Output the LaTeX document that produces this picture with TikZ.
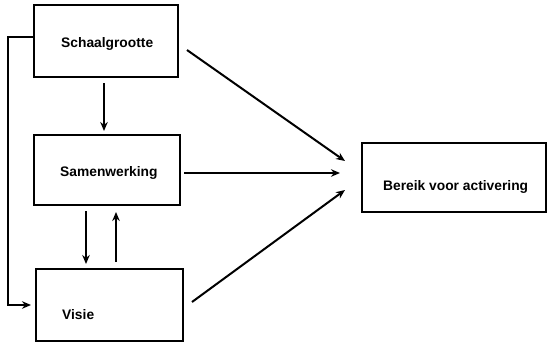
\documentclass[tikz,border=0pt]{standalone}
\usepackage{fontspec}
\setmainfont{Liberation Sans}
\usetikzlibrary{arrows.meta}
\begin{document}
\begin{tikzpicture}[x=1pt,y=-1pt,
  box/.style={draw,line width=1.6pt,inner sep=0pt},
  lbl/.style={font=\fontsize{13.8}{16}\selectfont\bfseries,inner sep=0pt,anchor=west},
  arr/.style={line width=2pt,-{Stealth[length=9pt,width=7.5pt]}}]
\useasboundingbox (0,0) rectangle (547,341);
% boxes
\node[box,minimum width=144pt,minimum height=72pt] (s) at (106,41) {};
\node[box,minimum width=146pt,minimum height=70pt] (w) at (107,170) {};
\node[box,minimum width=147pt,minimum height=72pt] (v) at (109.5,305) {};
\node[box,minimum width=184pt,minimum height=69pt] (b) at (454,177.5) {};
% labels
\node[lbl] (ts) at (61,44) {Schaalgrootte};
\node[lbl] (tw) at (60,173) {Samenwerking};
\node[lbl] (tv) at (62,315) {Visie};
\node[lbl] (tb) at (383,187) {Bereik voor activering};
% connector coordinates
\coordinate (s1) at (104,83);
\coordinate (w1) at (104,131);
\coordinate (wd) at (86,211);
\coordinate (vd) at (86,264);
\coordinate (vu) at (116,262);
\coordinate (wu) at (116,212);
\coordinate (sl) at (34,37);
\coordinate (c1) at (8,37);
\coordinate (c2) at (8,305);
\coordinate (vl) at (31,305);
\coordinate (sr) at (187,50);
\coordinate (b1) at (345,161);
\coordinate (wr) at (184,173);
\coordinate (b2) at (340,173);
\coordinate (vr) at (192,302);
\coordinate (b3) at (345,190);
% arrows
\draw[arr] (s1) -- (w1);
\draw[arr] (wd) -- (vd);
\draw[arr] (vu) -- (wu);
\draw[arr,line width=2.4pt] (sl) -- (c1) -- (c2) -- (vl);
\draw[arr] (sr) -- (b1);
\draw[arr] (wr) -- (b2);
\draw[arr] (vr) -- (b3);
\end{tikzpicture}
\end{document}
